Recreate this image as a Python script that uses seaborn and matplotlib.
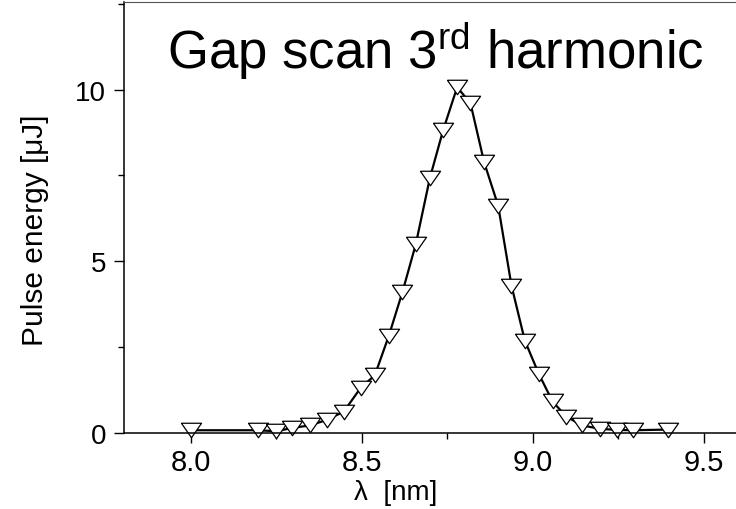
import matplotlib
matplotlib.use("Agg")
import matplotlib.pyplot as plt
from matplotlib.ticker import AutoMinorLocator, FixedLocator, FormatStrFormatter
import seaborn as sns
import pandas as pd

# ---- data ----
wavelength_nm = [8.000, 8.197, 8.250, 8.297, 8.348, 8.397, 8.447, 8.497, 8.538,
                 8.579, 8.619, 8.658, 8.699, 8.738, 8.779, 8.818, 8.858, 8.899,
                 8.938, 8.977, 9.018, 9.058, 9.098, 9.145, 9.198, 9.247, 9.294, 9.396]
pulse_energy_uJ = [0.08, 0.08, 0.05, 0.15, 0.22, 0.38, 0.62, 1.32, 1.68,
                   2.83, 4.11, 5.50, 7.42, 8.82, 10.07, 9.60, 7.88, 6.62,
                   4.29, 2.69, 1.72, 0.92, 0.48, 0.22, 0.12, 0.09, 0.08, 0.10]
x_ticks = [8.0, 8.5, 9.0, 9.5]
y_ticks = [0, 5, 10]
title_text = "Gap scan 3$^{\\mathrm{rd}}$ harmonic"
x_label = "λ  [nm]"
y_label = "Pulse energy [μJ]"

sns.set_style("ticks")
plt.rcParams["font.family"] = ["Liberation Sans", "DejaVu Sans"]
plt.rcParams["mathtext.fontset"] = "custom"
plt.rcParams["mathtext.rm"] = "Liberation Sans"
plt.rcParams["mathtext.it"] = "Liberation Sans:italic"
plt.rcParams["mathtext.bf"] = "Liberation Sans:bold"
plt.rcParams["text.color"] = "black"
plt.rcParams["axes.labelcolor"] = "black"

df = pd.DataFrame({"wavelength": wavelength_nm, "energy": pulse_energy_uJ})

fig = plt.figure(figsize=(7.36, 5.10), dpi=100)
ax = fig.add_axes([124 / 736, 76 / 510, 612 / 736, 431 / 510])

tri_down = [(-1.0, 0.72), (1.0, 0.72), (0.0, -0.72), (-1.0, 0.72)]
sns.lineplot(data=df, x="wavelength", y="energy", ax=ax, sort=False,
             color="black", linewidth=1.6, marker=tri_down, markersize=14.5,
             markerfacecolor="white", markeredgecolor="black",
             markeredgewidth=0.9, clip_on=False)

ax.set_xlim(7.804, 9.595)
ax.set_ylim(0, 12.55)
ax.xaxis.set_major_locator(FixedLocator(x_ticks))
ax.xaxis.set_major_formatter(FormatStrFormatter("%.1f"))
ax.yaxis.set_major_locator(FixedLocator(y_ticks))
ax.xaxis.set_minor_locator(AutoMinorLocator(2))
ax.yaxis.set_minor_locator(AutoMinorLocator(2))

ax.tick_params(axis="both", which="major", direction="out", length=7,
               width=1.0, color="black", labelcolor="black")
ax.tick_params(axis="both", which="minor", direction="out", length=4,
               width=1.0, color="black")
ax.tick_params(axis="x", which="major", pad=4, labelsize=21)
ax.tick_params(axis="y", which="major", pad=6, labelsize=20)

for side in ["left", "bottom", "top"]:
    ax.spines[side].set_visible(True)
    ax.spines[side].set_color("black")
    ax.spines[side].set_linewidth(1.1)
ax.spines["top"].set_linewidth(0.8)
ax.spines["top"].set_color("#555555")
ax.spines["right"].set_visible(False)

ax.set_xlabel(x_label, fontsize=20, color="black")
ax.set_ylabel(y_label, fontsize=21.5, color="black")
ax.xaxis.set_label_coords(0.444, -0.106)
ax.yaxis.set_label_coords(-0.123, 0.473)

ax.text(0.508, 0.848, title_text, transform=ax.transAxes, ha="center",
        va="baseline", fontsize=38, color="black")

fig.savefig("out.png", dpi=100)
